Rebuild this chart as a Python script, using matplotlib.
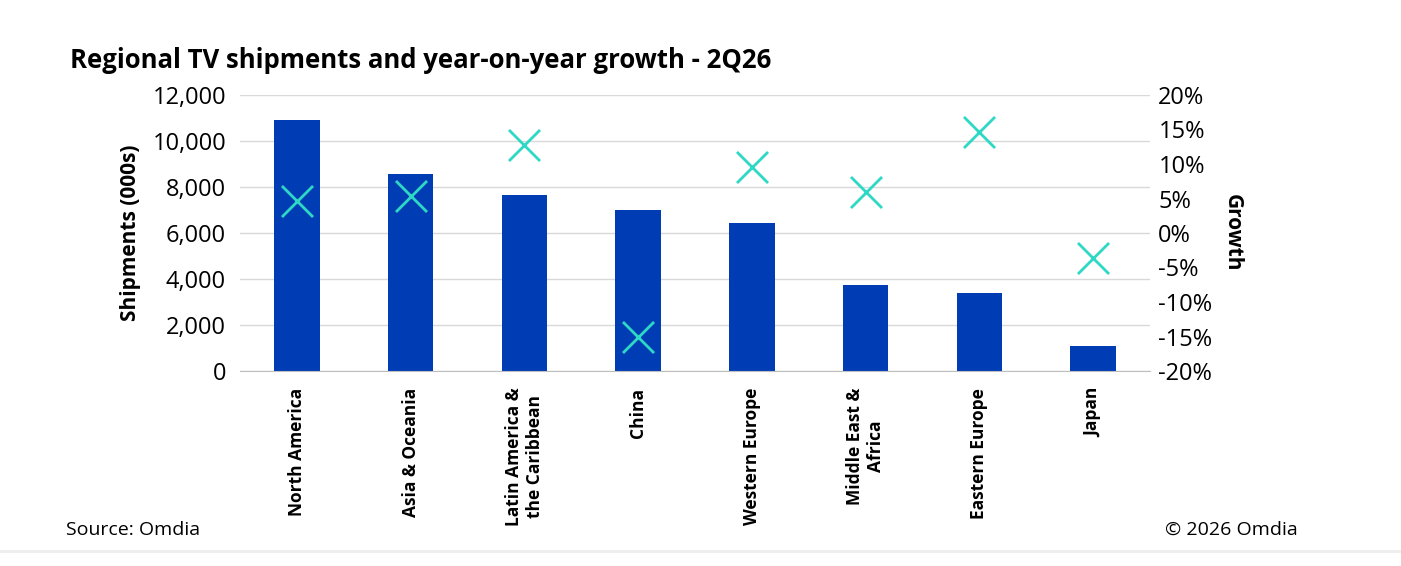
import matplotlib.pyplot as plt
from matplotlib.ticker import FuncFormatter

regions = ["North America", "Asia & Oceania", "Latin America &\nthe Caribbean", "China",
           "Western Europe", "Middle East &\nAfrica", "Eastern Europe", "Japan"]
shipments = [10900, 8550, 7650, 7000, 6450, 3720, 3380, 1080]
growth = [4.6, 5.4, 12.8, -15.1, 9.6, 5.9, 14.6, -3.6]

plt.rcParams['font.family'] = ['Open Sans', 'DejaVu Sans']

fig = plt.figure(figsize=(14.01, 5.66), dpi=100)
ax = fig.add_axes([240 / 1401, 1 - 371 / 566, 910 / 1401, 276 / 566])
x = range(len(regions))
ax.bar(x, shipments, width=0.4, color="#003cb4", zorder=2)
ax.set_ylim(0, 12000)
ax.set_yticks(range(0, 12001, 2000))
ax.yaxis.set_major_formatter(FuncFormatter(lambda v, p: f"{int(v):,}"))
ax.grid(axis="y", color="#d9d9d9", lw=1, zorder=0)
ax.set_xlim(-0.5, len(regions) - 0.5)
ax.set_xticks(list(x))
ax.set_xticklabels(regions, rotation=90, fontsize=12.5, fontweight="bold", va="top", ha="center")
ax.tick_params(axis="x", length=0, pad=12)
ax.tick_params(axis="y", labelsize=17, length=0, pad=10)
ax.set_ylabel("Shipments (000s)", fontsize=15, fontweight="bold", labelpad=8)
for s in ["top", "right", "left"]:
    ax.spines[s].set_visible(False)
ax.spines["bottom"].set_color("#bfbfbf")

ax2 = ax.twinx()
ax2.scatter(x, growth, marker="x", s=500, color="#2dd8c4", linewidths=2, zorder=3)
ax2.set_ylim(-20, 20)
ax2.set_yticks(range(-20, 21, 5))
ax2.yaxis.set_major_formatter(FuncFormatter(lambda v, p: f"{int(v)}%"))
ax2.tick_params(axis="y", labelsize=17, length=0, pad=6)
ax2.set_ylabel("Growth", fontsize=15, fontweight="bold", rotation=270, labelpad=22)
for s in ["top", "right", "left", "bottom"]:
    ax2.spines[s].set_visible(False)

fig.text(70 / 1401, 1 - 60 / 566, "Regional TV shipments and year-on-year growth - 2Q26",
         fontsize=18.5, fontweight="bold", va="center")
fig.text(66 / 1401, 1 - 530 / 566, "Source: Omdia", fontsize=14, va="center")
fig.text(1298 / 1401, 1 - 530 / 566, "© 2026 Omdia", fontsize=14, va="center", ha="right")
fig.add_artist(plt.Line2D([0, 1], [1 - 551 / 566] * 2, color="#eeeeee", lw=2))
fig.savefig("out.png", dpi=100)
